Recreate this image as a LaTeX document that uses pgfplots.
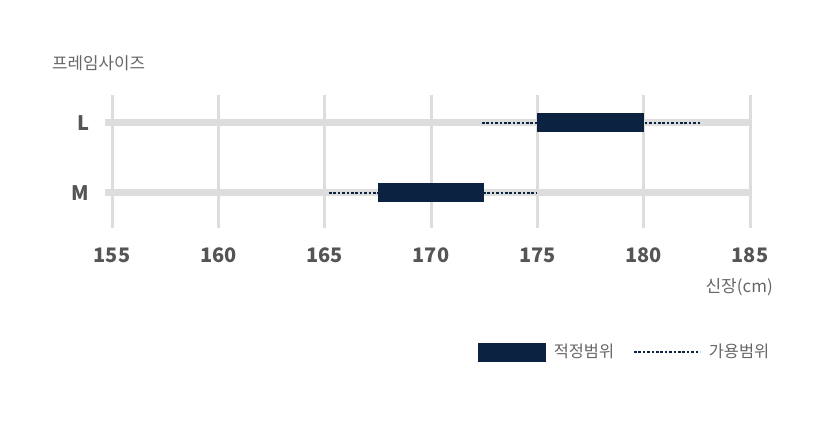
\documentclass[border=0pt]{standalone}
\usepackage{pgfplots}
\pgfplotsset{compat=1.18}
\usepackage{fontspec}
\setmainfont{Noto Sans CJK KR}
\definecolor{navy}{HTML}{0B2341}
\definecolor{gridgray}{HTML}{DDDDDD}
\definecolor{tickgray}{HTML}{555555}
\definecolor{textgray}{HTML}{666666}
\begin{document}
\begin{tikzpicture}
\path[use as bounding box] (0,0) rectangle (825bp,421bp);
\begin{axis}[
  at={(112bp,193bp)}, anchor=south west,
  scale only axis, width=638bp, height=133bp,
  xmin=155, xmax=185, ymin=-0.5, ymax=1.4,
  clip=false,
  axis line style={draw=none},
  major tick length=0pt,
  xtick={155,160,...,185},
  ytick={0,1}, yticklabels={M,L},
  xmajorgrids, ymajorgrids=false,
  grid style={gridgray, line width=3bp},
  /pgf/number format/assume math mode=true,
  xticklabel style={font=\fontsize{20bp}{24bp}\selectfont\bfseries, text=tickgray, yshift=-16bp},
  yticklabel style={font=\fontsize{20bp}{24bp}\selectfont\bfseries, text=tickgray, xshift=-19bp},
  legend style={at={(axis description cs:0.574,-0.932)}, anchor=west, draw=none, fill=none,
    legend columns=2, font=\fontsize{16.4bp}{19bp}\selectfont, text=textgray,
    inner sep=0pt, nodes={inner sep=0pt},
    /tikz/every odd column/.style={column sep=8bp},
    /tikz/every even column/.style={column sep=19bp}},
]
% gray tracks
\addplot[gridgray, line width=7bp, forget plot] coordinates {(154.67,1) (185.07,1)};
\addplot[gridgray, line width=7bp, forget plot] coordinates {(154.67,0) (185.07,0)};
% usable range (dotted)
\addplot[navy, line width=1.7bp, dash pattern=on 2.6bp off 1.8bp, forget plot] coordinates {(172.4,1) (182.7,1)};
\addplot[navy, line width=1.7bp, dash pattern=on 2.6bp off 1.8bp, forget plot] coordinates {(165.2,0) (175,0)};
% appropriate range (solid)
\addplot[navy, line width=19bp, forget plot] coordinates {(175,1) (180,1)};
\addplot[navy, line width=19bp, forget plot] coordinates {(167.5,0) (172.5,0)};
\addlegendimage{legend image code/.code={\fill[navy] (0bp,-9bp) rectangle (67bp,9bp);}}
\addlegendentry{적정범위}
\addlegendimage{legend image code/.code={\draw[navy, line width=1.7bp, dash pattern=on 2.6bp off 1.8bp] (0bp,0bp) -- (66bp,0bp);}}
\addlegendentry{가용범위}
\node[anchor=west, font=\fontsize{16.8bp}{20bp}\selectfont, text=textgray, inner sep=0pt] at (axis description cs:-0.094,1.241) {프레임사이즈};
\node[anchor=east, font=\fontsize{17bp}{20bp}\selectfont, text=textgray, inner sep=0pt] at (axis description cs:1.036,-0.444) {신장(cm)};
\end{axis}
\end{tikzpicture}
\end{document}
